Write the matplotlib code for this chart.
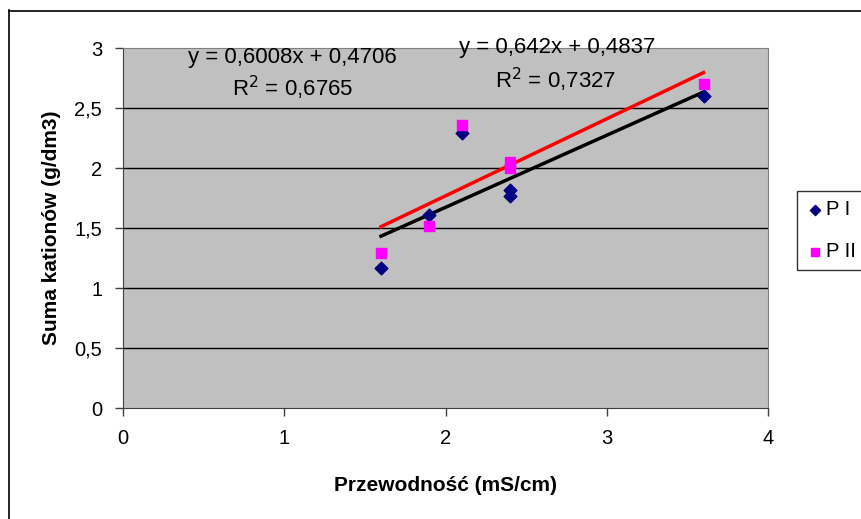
import numpy as np
import matplotlib
matplotlib.use('Agg')
import matplotlib.pyplot as plt
from matplotlib.lines import Line2D

plt.rcParams['font.family'] = ['Liberation Sans', 'DejaVu Sans']

# data
x_p1 = [1.6, 1.9, 2.1, 2.4, 2.4, 3.6]
y_p1 = [1.17, 1.61, 2.29, 1.82, 1.77, 2.60]
x_p2 = [1.6, 1.9, 2.1, 2.4, 2.4, 3.6]
y_p2 = [1.29, 1.52, 2.36, 2.05, 2.00, 2.70]

# trendline coefficients as printed on the chart
coef_p1 = (0.6008, 0.4706)
coef_p2 = (0.642, 0.4837)
eq_p1 = ['y = 0,6008x + 0,4706', 'R$^2$ = 0,6765']
eq_p2 = ['y = 0,642x + 0,4837', 'R$^2$ = 0,7327']

xticks = [0, 1, 2, 3, 4]
yticks = [0, 0.5, 1, 1.5, 2, 2.5, 3]
yticklabels = ['0', '0,5', '1', '1,5', '2', '2,5', '3']

W, H = 861, 519
fig = plt.figure(figsize=(W / 100, H / 100), dpi=100)
ax = fig.add_axes([123 / W, 1 - 408 / H, (768 - 123) / W, (408 - 48) / H])
ax.set_facecolor('#C0C0C0')

# outer chart frame (cropped at right / bottom)
fig.add_artist(Line2D([8.5 / W, 8.5 / W], [0, 1 - 10 / H], color='black', lw=1.2))
fig.add_artist(Line2D([8.5 / W, 1], [1 - 10.5 / H, 1 - 10.5 / H], color='black', lw=1.2))

for yv in yticks[1:-1]:
    ax.axhline(yv, color='black', lw=1, zorder=1)

ax.scatter(x_p1, y_p1, marker='D', s=42, color='#000080', zorder=3, label='P I')
ax.scatter(x_p2, y_p2, marker='s', s=58, color='#FF00FF', zorder=3, label='P II')

xs = np.array([min(x_p1), max(x_p1)])
ax.plot(xs, coef_p1[0] * xs + coef_p1[1], color='black', lw=2.5, zorder=2)
xs2 = np.array([min(x_p2), max(x_p2)])
ax.plot(xs2, coef_p2[0] * xs2 + coef_p2[1], color='red', lw=2.5, zorder=2)

ax.set_xlim(0, 4)
ax.set_ylim(0, 3)
ax.set_xticks(xticks)
ax.set_xticklabels([str(t) for t in xticks])
ax.set_yticks(yticks)
ax.set_yticklabels(yticklabels)
ax.tick_params(direction='out', length=6, width=1, color='#404040', labelsize=14.5, pad=9)
for s in ['top', 'right']:
    ax.spines[s].set_color('#808080')
for s in ['left', 'bottom']:
    ax.spines[s].set_color('#404040')

ax.set_xlabel('Przewodność (mS/cm)', fontsize=15, fontweight='bold', labelpad=20)
ax.set_ylabel('Suma kationów (g/dm3)', fontsize=15, fontweight='bold', labelpad=10)

ax.text(292 / W, 1 - 57 / H, eq_p1[0], transform=fig.transFigure, ha='center', va='center', fontsize=16)
ax.text(293 / W, 1 - 88 / H, eq_p1[1], transform=fig.transFigure, ha='center', va='center', fontsize=16)
ax.text(557 / W, 1 - 48 / H, eq_p2[0], transform=fig.transFigure, ha='center', va='center', fontsize=16)
ax.text(556 / W, 1 - 80 / H, eq_p2[1], transform=fig.transFigure, ha='center', va='center', fontsize=16)

# legend sits at the right edge, partly cut off as in the original
leg = fig.legend(loc='upper left', bbox_to_anchor=(797 / W, 1 - 191 / H), fontsize=14.5,
                 frameon=True, fancybox=False, edgecolor='black', handletextpad=0.1,
                 handlelength=0.9, borderpad=0.45, labelspacing=1.15, markerscale=0.8,
                 borderaxespad=0)
leg.get_frame().set_linewidth(1)

fig.savefig('out.png', dpi=100)
